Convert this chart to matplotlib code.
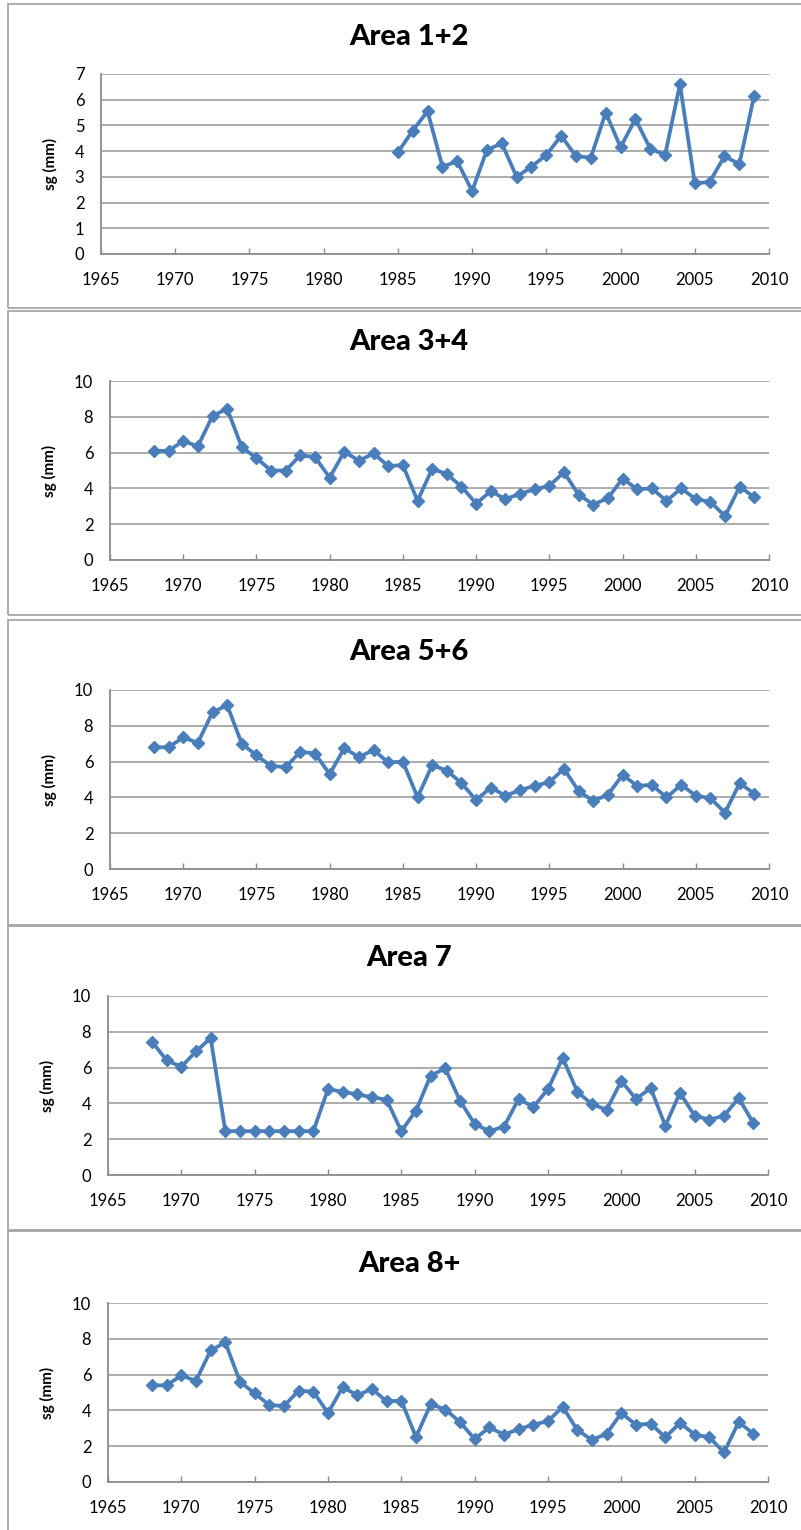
import matplotlib
matplotlib.use("Agg")
import matplotlib.pyplot as plt
from matplotlib.patches import Rectangle

plt.rcParams['font.family'] = ['Lato', 'DejaVu Sans']

years_12 = list(range(1985, 2010))
area_12 = [3.95, 4.8, 5.55, 3.4, 3.6, 2.45, 4.05, 4.3, 3.0, 3.4, 3.85, 4.6, 3.8,
           3.75, 5.5, 4.15, 5.25, 4.1, 3.85, 6.6, 2.75, 2.8, 3.8, 3.5, 6.15]

years = list(range(1968, 2010))
area_34 = [6.1, 6.1, 6.65, 6.35, 8.05, 8.45, 6.3, 5.7, 5.0, 5.0, 5.85, 5.75, 4.6,
           6.05, 5.55, 5.95, 5.25, 5.3, 3.3, 5.1, 4.8, 4.1, 3.15, 3.85, 3.4, 3.7,
           3.95, 4.15, 4.9, 3.65, 3.1, 3.45, 4.55, 3.95, 4.0, 3.3, 4.0, 3.4, 3.25,
           2.45, 4.1, 3.5]
area_56 = [6.8, 6.8, 7.35, 7.05, 8.75, 9.15, 7.0, 6.35, 5.75, 5.7, 6.55, 6.45, 5.3,
           6.75, 6.25, 6.65, 5.95, 6.0, 4.0, 5.8, 5.5, 4.8, 3.85, 4.55, 4.1, 4.4,
           4.65, 4.85, 5.6, 4.35, 3.8, 4.15, 5.25, 4.65, 4.7, 4.0, 4.7, 4.1, 3.95,
           3.15, 4.8, 4.2]
area_7 = [7.45, 6.4, 6.05, 6.9, 7.65, 2.45, 2.45, 2.45, 2.45, 2.45, 2.45, 2.45, 4.8,
          4.65, 4.5, 4.35, 4.2, 2.45, 3.6, 5.55, 5.95, 4.15, 2.85, 2.45, 2.7, 4.25,
          3.8, 4.8, 6.55, 4.65, 3.95, 3.65, 5.25, 4.25, 4.85, 2.75, 4.6, 3.3, 3.1,
          3.3, 4.3, 2.9]
area_8 = [5.4, 5.4, 5.95, 5.65, 7.35, 7.8, 5.6, 4.95, 4.3, 4.25, 5.1, 5.05, 3.85,
          5.3, 4.85, 5.2, 4.5, 4.55, 2.5, 4.35, 4.05, 3.35, 2.4, 3.05, 2.65, 2.95,
          3.2, 3.4, 4.2, 2.9, 2.35, 2.7, 3.85, 3.2, 3.25, 2.5, 3.3, 2.65, 2.5,
          1.65, 3.35, 2.7]

titles = ["Area 1+2", "Area 3+4", "Area 5+6", "Area 7", "Area 8+"]
xs = [years_12, years, years, years, years]
ys = [area_12, area_34, area_56, area_7, area_8]
ymaxs = [7, 10, 10, 10, 10]
ysteps = [1, 2, 2, 2, 2]
xticks = list(range(1965, 2011, 5))

W, H = 801, 1530
fig = plt.figure(figsize=(W / 100, H / 100), dpi=100)

# layout in pixels (top-origin)
boxes = [(8, 4, 308), (8, 311, 615), (8, 620, 925), (8, 926, 1230), (8, 1231, 1545)]
axes_px = [(101, 769, 74, 254), (110, 769, 381, 560), (110, 769, 690, 869),
           (108, 768, 996, 1175), (108, 768, 1303, 1482)]
title_y = [37, 342, 652, 958, 1264]

line_col = '#4a7ebb'
grid_col = '#a6a6a6'
spine_col = '#8c8c8c'

for i in range(5):
    bx, bt, bb = boxes[i]
    fig.patches.append(Rectangle((bx / W, 1 - bb / H), (W + 20 - bx) / W, (bb - bt) / H,
                                 transform=fig.transFigure, fill=False,
                                 edgecolor='#a0a0a0', linewidth=1.2))
    l, r, t, b = axes_px[i]
    ax = fig.add_axes([l / W, 1 - b / H, (r - l) / W, (b - t) / H])
    ax.plot(xs[i], ys[i], color=line_col, linewidth=2.7, marker='D',
            markersize=6.5, markerfacecolor=line_col, markeredgecolor=line_col,
            clip_on=False, zorder=3)
    ax.set_xlim(1965, 2010)
    ax.set_ylim(0, ymaxs[i])
    ax.set_xticks(xticks)
    ax.set_yticks(list(range(0, ymaxs[i] + 1, ysteps[i])))
    ax.yaxis.grid(True, color=grid_col, linewidth=1.3)
    ax.set_axisbelow(True)
    for s in ['top', 'right']:
        ax.spines[s].set_visible(False)
    for s in ['left', 'bottom']:
        ax.spines[s].set_color(spine_col)
        ax.spines[s].set_linewidth(1.3)
    ax.tick_params(axis='x', direction='in', length=4, width=1, color=spine_col,
                   pad=13, labelsize=12)
    ax.tick_params(axis='y', length=0, pad=12, labelsize=12)
    ax.set_ylabel('sg (mm)', fontsize=11, fontweight='bold', labelpad=12)
    fig.text(409 / W, 1 - title_y[i] / H, titles[i], ha='center', va='center',
             fontsize=21, fontweight='black')

fig.savefig('out.png', dpi=100)
